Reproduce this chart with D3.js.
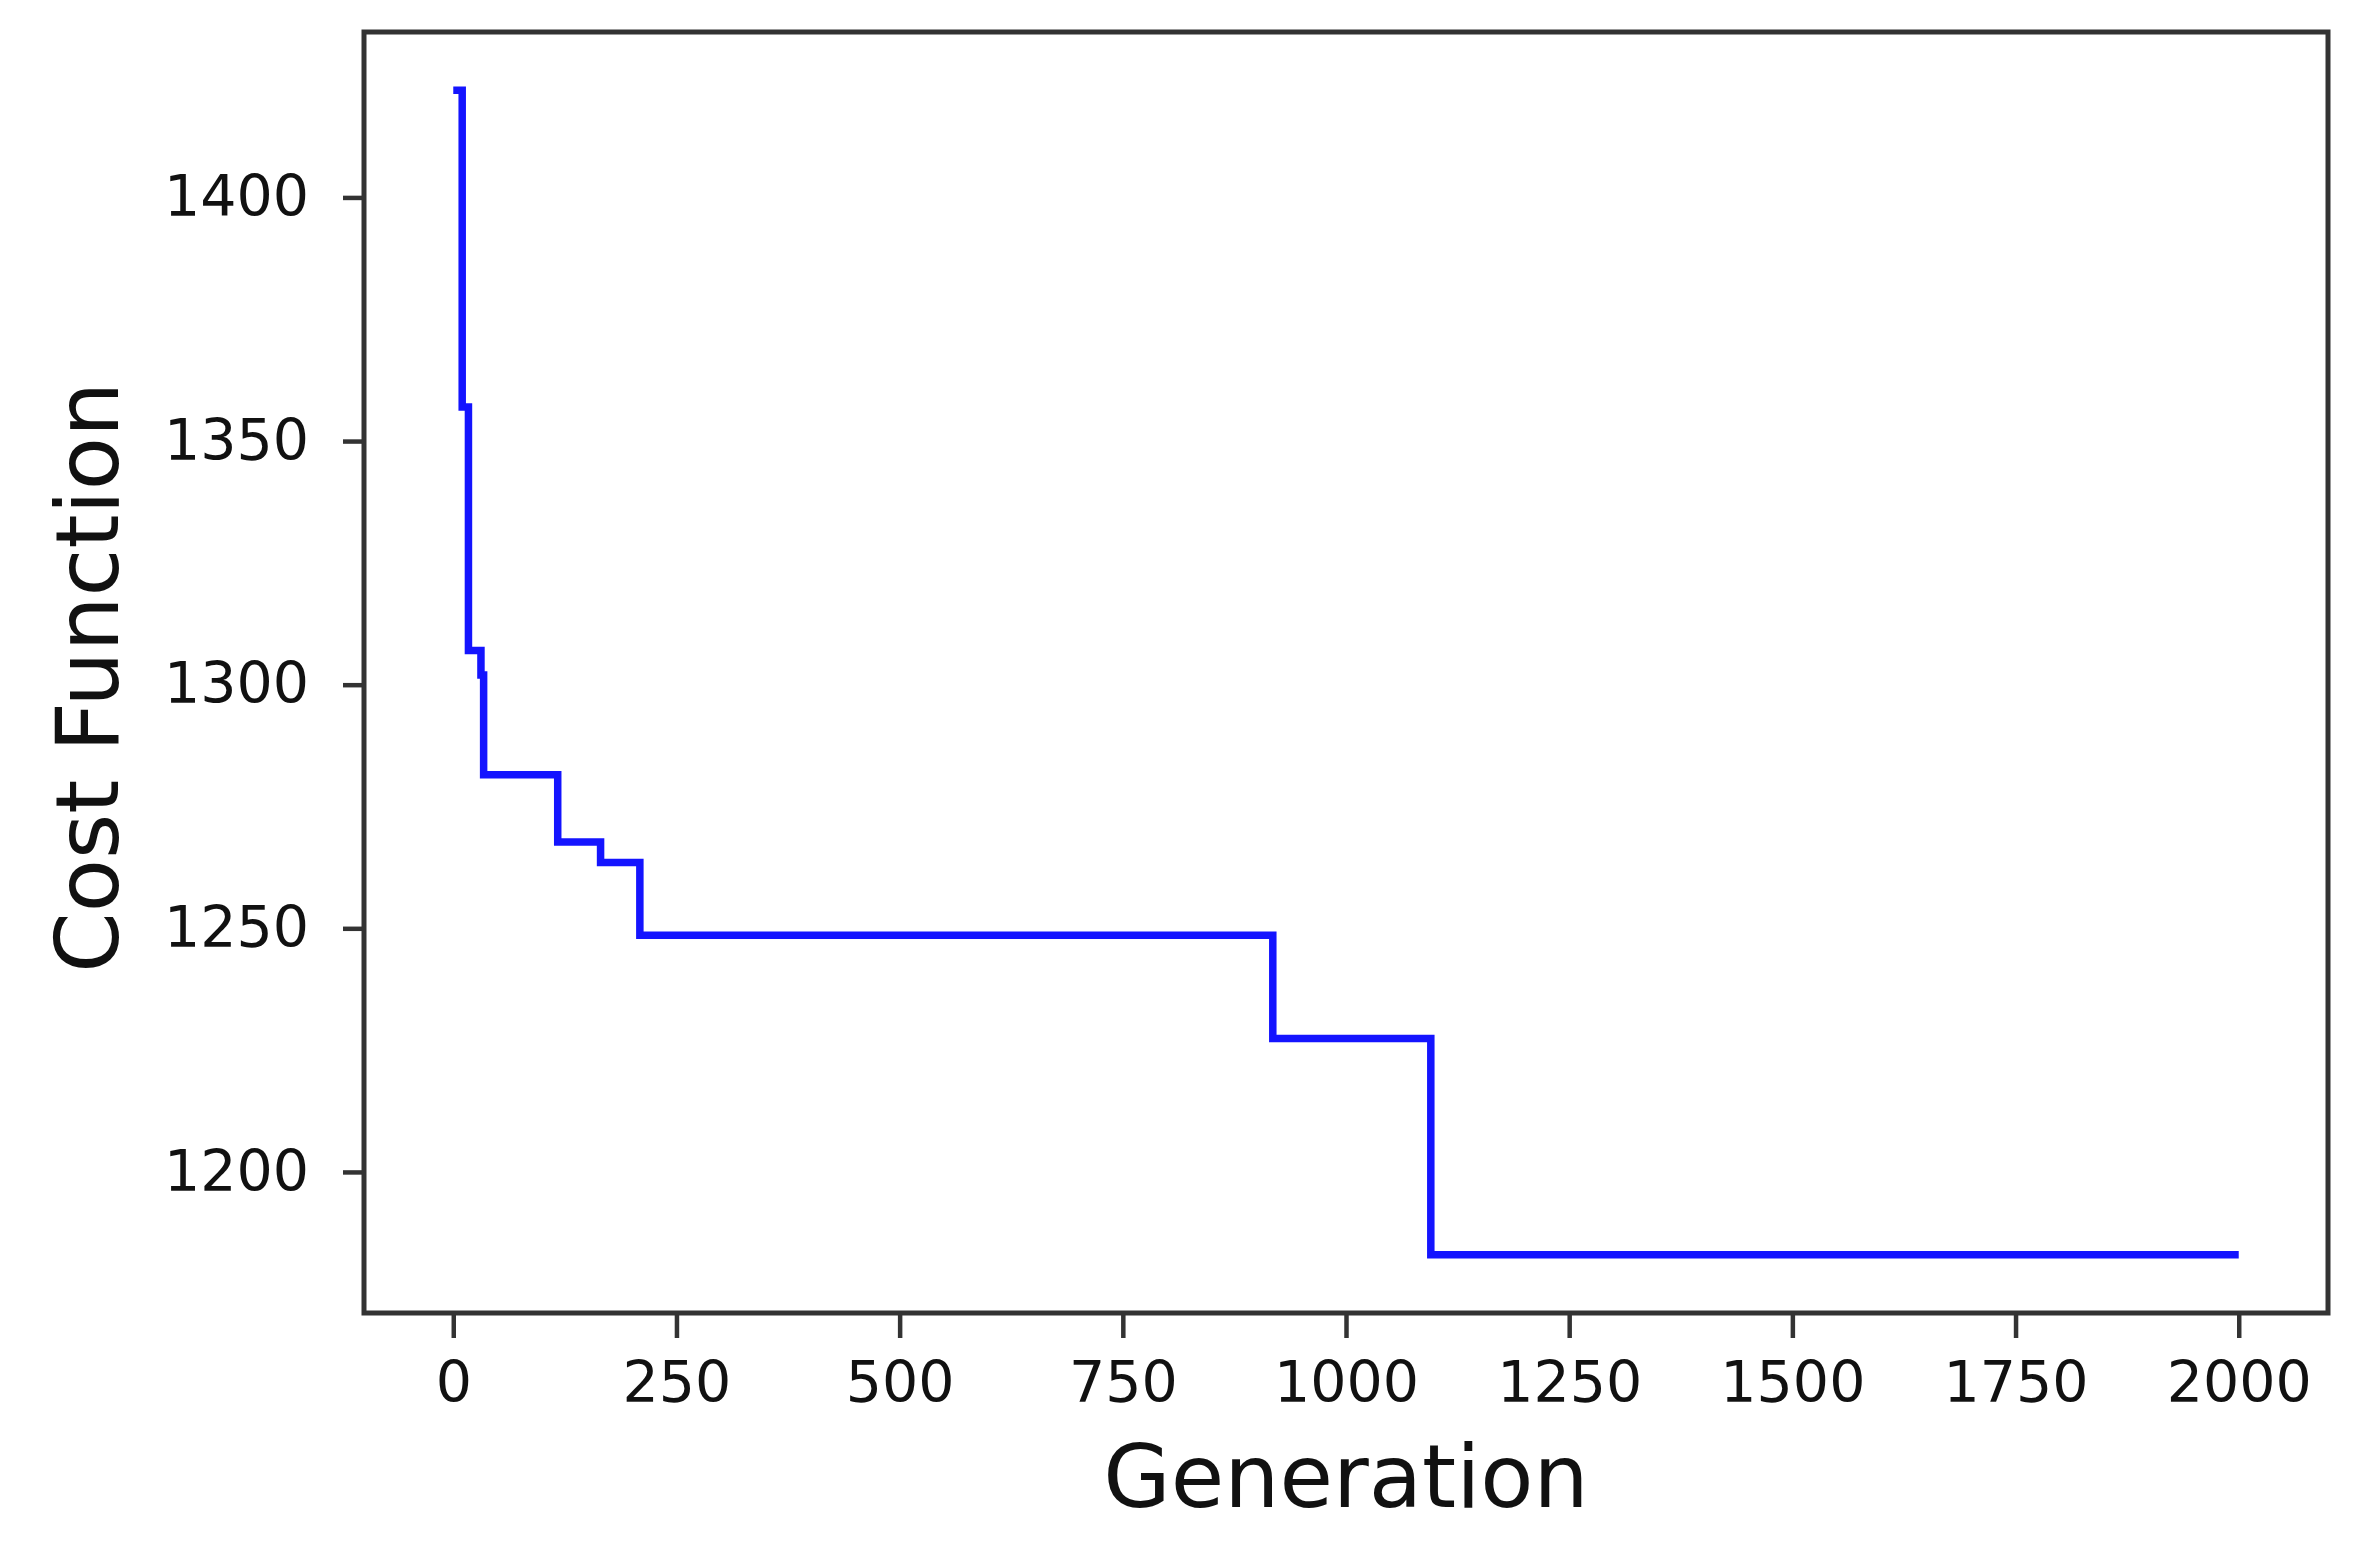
<!DOCTYPE html>
<html>
<head>
<meta charset="utf-8">
<script src="https://cdn.jsdelivr.net/npm/d3@7"></script>
<style>
  html, body { margin: 0; padding: 0; background: #ffffff; }
  svg { display: block; }
  text { font-family: "DejaVu Sans", sans-serif; fill: #111; }
</style>
</head>
<body>
<svg id="chart" width="2370" height="1553"></svg>
<script>
// Data: generation at which the best cost changes, and the cost from there on
const generations = [0, 10, 17, 31, 34, 117, 165, 209, 918, 1095, 2000];
const costs = [1422, 1357, 1307, 1302, 1281.5, 1267.7, 1263.5, 1248.6, 1227.4, 1183, 1183];
const xTicks = [0, 250, 500, 750, 1000, 1250, 1500, 1750, 2000];
const yTicks = [1200, 1250, 1300, 1350, 1400];
const xLabel = "Generation";
const yLabel = "Cost Function";

const margin = { left: 364, right: 2328, top: 32, bottom: 1313 };

const svg = d3.select("#chart");

const xExt = d3.extent(generations);
const yExt = d3.extent(costs);
const xPad = (xExt[1] - xExt[0]) * 0.05;
const yPad = (yExt[1] - yExt[0]) * 0.05;

const x = d3.scaleLinear()
  .domain([xExt[0] - xPad, xExt[1] + xPad])
  .range([margin.left, margin.right]);
const y = d3.scaleLinear()
  .domain([yExt[0] - yPad, yExt[1] + yPad])
  .range([margin.bottom, margin.top]);

const points = generations.map((g, i) => ({ g, c: costs[i] }));

// line
const line = d3.line()
  .x(d => x(d.g))
  .y(d => y(d.c))
  .curve(d3.curveStepAfter);

svg.append("path")
  .datum(points)
  .attr("d", line)
  .attr("fill", "none")
  .attr("stroke", "#1414ff")
  .attr("stroke-width", 7.5)
  .attr("stroke-linejoin", "miter")
  .attr("stroke-linecap", "butt");

// axes
const xAxis = d3.axisBottom(x)
  .tickValues(xTicks)
  .tickFormat(d3.format("d"))
  .tickSize(25)
  .tickPadding(24);
const gx = svg.append("g")
  .attr("transform", `translate(0,${margin.bottom})`)
  .call(xAxis);
gx.select(".domain").remove();
gx.selectAll(".tick line").attr("stroke", "#333").attr("stroke-width", 4.5);
gx.selectAll(".tick text")
  .attr("font-family", "DejaVu Sans")
  .attr("font-size", 57)
  .attr("fill", "#111");

const yAxis = d3.axisLeft(y)
  .tickValues(yTicks)
  .tickFormat(d3.format("d"))
  .tickSize(21)
  .tickPadding(34);
const gy = svg.append("g")
  .attr("transform", `translate(${margin.left},0)`)
  .call(yAxis);
gy.select(".domain").remove();
gy.selectAll(".tick line").attr("stroke", "#333").attr("stroke-width", 4.5);
gy.selectAll(".tick text")
  .attr("font-family", "DejaVu Sans")
  .attr("font-size", 57)
  .attr("fill", "#111");

// frame
svg.append("rect")
  .attr("x", margin.left)
  .attr("y", margin.top)
  .attr("width", margin.right - margin.left)
  .attr("height", margin.bottom - margin.top)
  .attr("fill", "none")
  .attr("stroke", "#333")
  .attr("stroke-width", 5);

// axis labels
svg.append("text")
  .attr("x", (margin.left + margin.right) / 2)
  .attr("y", 1507)
  .attr("text-anchor", "middle")
  .attr("font-size", 87)
  .text(xLabel);

svg.append("text")
  .attr("transform", `translate(118,${(margin.top + margin.bottom) / 2 + 5}) rotate(-90)`)
  .attr("text-anchor", "middle")
  .attr("font-size", 87)
  .text(yLabel);
</script>
</body>
</html>
